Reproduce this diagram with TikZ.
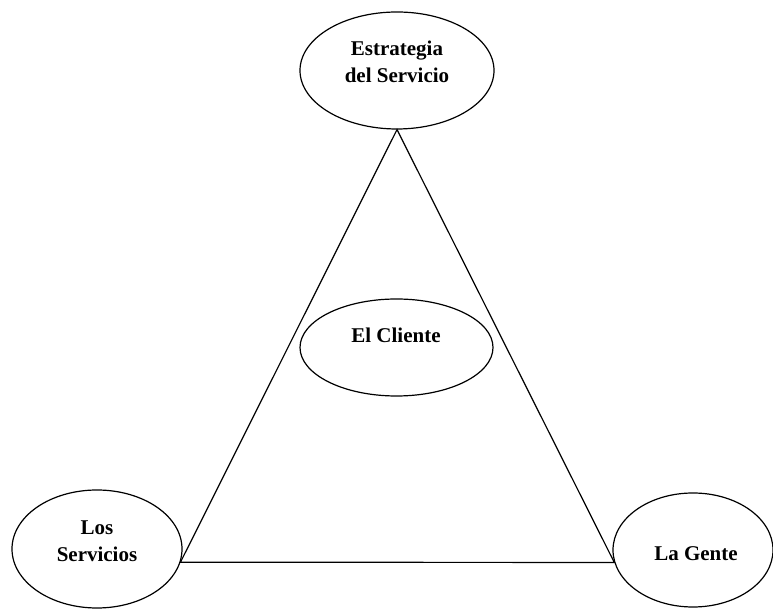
\documentclass[tikz,border=0pt]{standalone}
\usepackage{fontspec}
\setmainfont{Liberation Serif}
\usetikzlibrary{shapes.geometric, positioning}

\begin{document}
\begin{tikzpicture}[
  x=1pt, y=1pt,
  oval/.style={draw, ellipse, line width=1.2pt, inner sep=0pt},
  txt/.style={inner sep=0pt, align=center, font=\bfseries\fontsize{21}{26.5}\selectfont},
  lin/.style={line width=1.2pt}
]
  \useasboundingbox (0,0) rectangle (773,609);

  \node[oval, minimum width=194pt, minimum height=117pt] (estrategia) at (397,538.5) {};
  \node[oval, minimum width=193pt, minimum height=97pt] (cliente) at (396.5,261.5) {};
  \node[oval, minimum width=170pt, minimum height=118pt] (servicios) at (97,60) {};
  \node[oval, minimum width=160pt, minimum height=114pt] (gente) at (693,59) {};

  \node[txt] (estrategia-t) at (397,547) {Estrategia\\del Servicio};
  \node[txt] (cliente-t) at (396,274) {El Cliente};
  \node[txt] (servicios-t) at (97,68) {Los\\Servicios};
  \node[txt] (gente-t) at (696,55) {La Gente};

  \draw[lin] (estrategia.south) -- (servicios.-9) -- (gente.189) -- cycle;
\end{tikzpicture}
\end{document}
